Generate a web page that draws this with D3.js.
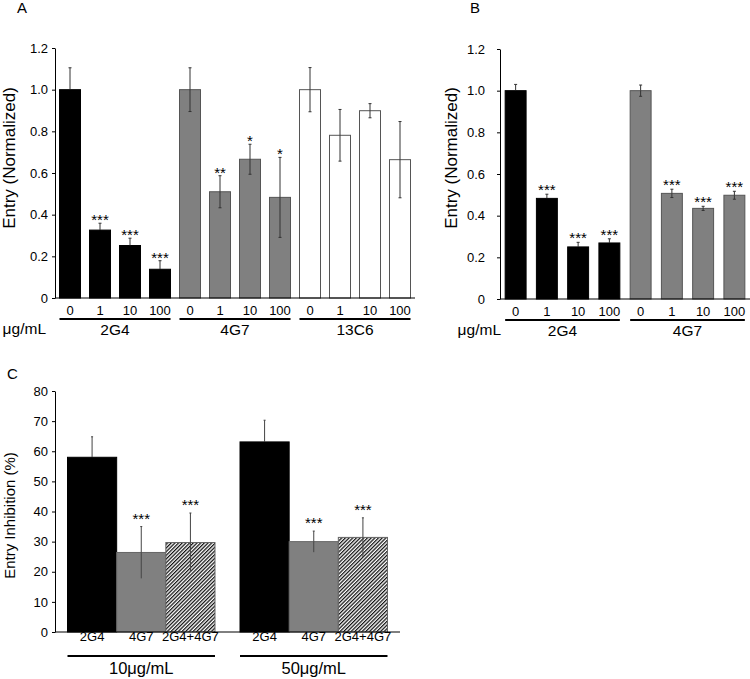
<!DOCTYPE html>
<html>
<head>
<meta charset="utf-8">
<script src="https://cdn.jsdelivr.net/npm/d3@7/dist/d3.min.js"></script>
<style>
html,body{margin:0;padding:0;background:#fff;}
svg{display:block;font-family:"Liberation Sans",Arial,sans-serif;}
</style>
</head>
<body>
<svg id="chart" width="750" height="679"></svg>
<script>
// ---------- Data ----------
const doses = ["0", "1", "10", "100"];
const unitLabel = "μg/mL";

// Panel A
const groupsA = ["2G4", "4G7", "13C6"];
const entryA_2G4 = [1.0, 0.326, 0.252, 0.138];
const errA_2G4 = [0.105, 0.033, 0.035, 0.041];
const sigA_2G4 = ["", "***", "***", "***"];
const entryA_4G7 = [1.0, 0.510, 0.666, 0.483];
const errA_4G7 = [0.105, 0.077, 0.072, 0.192];
const sigA_4G7 = ["", "**", "*", "*"];
const entryA_13C6 = [1.0, 0.781, 0.899, 0.664];
const errA_13C6 = [0.106, 0.124, 0.034, 0.183];
const sigA_13C6 = ["", "", "", ""];

// Panel B
const groupsB = ["2G4", "4G7"];
const entryB_2G4 = [1.0, 0.483, 0.250, 0.269];
const errB_2G4 = [0.03, 0.02, 0.022, 0.02];
const sigB_2G4 = ["", "***", "***", "***"];
const entryB_4G7 = [1.0, 0.507, 0.435, 0.498];
const errB_4G7 = [0.027, 0.02, 0.01, 0.019];
const sigB_4G7 = ["", "***", "***", "***"];

const ticksAB = [0, 0.2, 0.4, 0.6, 0.8, 1.0, 1.2];
const tickLabelsAB = ["0", "0.2", "0.4", "0.6", "0.8", "1.0", "1.2"];

// Panel C
const concentrationsC = ["10μg/mL", "50μg/mL"];
const antibodiesC = ["2G4", "4G7", "2G4+4G7"];
const inhib10 = [58.0, 26.4, 29.7];
const err10 = [6.8, 8.6, 9.8];
const inhib50 = [63.1, 30.0, 31.4];
const err50 = [7.2, 3.5, 6.5];
const sigC = ["", "***", "***"];
const ticksC = [0, 10, 20, 30, 40, 50, 60, 70, 80];

// ---------- Styles ----------
const FONT = "Liberation Sans, Arial, sans-serif";
const BLACK = "#000";
const GRAY = "#808080";
const EDGE = "#555";
const ERR = "#333";

const svg = d3.select("#chart");
const defs = svg.append("defs");
const pat = defs.append("pattern")
  .attr("id", "hatch")
  .attr("patternUnits", "userSpaceOnUse")
  .attr("width", 2.6).attr("height", 2.6)
  .attr("patternTransform", "rotate(45)");
pat.append("rect").attr("width", 2.6).attr("height", 2.6).attr("fill", "#fff");
pat.append("rect").attr("width", 1.25).attr("height", 2.6).attr("fill", "#111");

// ---------- Panel A / B builder ----------
function panelAB(opt) {
  const g = svg.append("g");
  const rows = [];
  opt.groups.forEach((grp, gi) => {
    opt.values[gi].forEach((v, di) => {
      rows.push({grp, gi, dose: doses[di], v, e: opt.errs[gi][di], s: opt.sigs[gi][di], key: grp + "_" + di});
    });
  });
  const x = d3.scaleBand().domain(rows.map(r => r.key))
    .range([opt.x0, opt.x1]).paddingInner(opt.pin).paddingOuter(opt.pout);
  const y = d3.scaleLinear().domain([0, 1.2]).range([opt.y0, opt.y1]);

  const yAxis = d3.axisLeft(y).tickValues(ticksAB)
    .tickFormat((d, i) => tickLabelsAB[i]).tickSize(3).tickSizeOuter(0);
  const ya = g.append("g").attr("transform", `translate(${opt.x0},0)`).call(yAxis);
  ya.select(".domain").attr("stroke", "#000").attr("stroke-width", 1);
  ya.selectAll(".tick line").attr("stroke", "#000");
  ya.selectAll(".tick text").attr("x", -opt.labelGap).attr("font-size", 13)
    .attr("font-family", FONT).attr("fill", "#000");

  g.selectAll("rect.bar").data(rows).join("rect")
    .attr("x", d => x(d.key)).attr("width", x.bandwidth())
    .attr("y", d => y(d.v)).attr("height", d => y(0) - y(d.v))
    .attr("fill", d => opt.fills[d.gi])
    .attr("stroke", d => opt.strokes[d.gi]).attr("stroke-width", 1);

  const eg = g.selectAll("g.err").data(rows).join("g");
  const cx = d => x(d.key) + x.bandwidth() / 2;
  eg.append("line").attr("x1", cx).attr("x2", cx)
    .attr("y1", d => y(d.v + d.e)).attr("y2", d => y(d.v))
    .attr("stroke", ERR).attr("stroke-width", 1);
  eg.append("line").attr("x1", cx).attr("x2", cx)
    .attr("y1", d => y(d.v)).attr("y2", d => y(d.v - d.e))
    .attr("stroke", d => opt.fills[d.gi] === BLACK ? "#000" : ERR).attr("stroke-width", 1);
  [1, -1].forEach(sgn => {
    eg.append("line").attr("x1", d => cx(d) - 1.5).attr("x2", d => cx(d) + 1.5)
      .attr("y1", d => y(d.v + sgn * d.e)).attr("y2", d => y(d.v + sgn * d.e))
      .attr("stroke", d => (sgn < 0 && opt.fills[d.gi] === BLACK) ? "#000" : ERR).attr("stroke-width", 1);
  });

  g.selectAll("text.sig").data(rows.filter(r => r.s)).join("text")
    .attr("x", cx).attr("y", d => y(d.v + d.e) + opt.starDy)
    .attr("text-anchor", "middle").attr("font-size", 15).attr("font-family", FONT)
    .text(d => d.s);

  g.append("line").attr("x1", opt.x0).attr("x2", opt.x1)
    .attr("y1", y(0)).attr("y2", y(0)).attr("stroke", "#000").attr("stroke-width", 1);

  g.selectAll("text.dose").data(rows).join("text")
    .attr("x", cx).attr("y", opt.y0 + 17)
    .attr("text-anchor", "middle").attr("font-size", 13).attr("font-family", FONT)
    .text(d => d.dose);

  opt.groups.forEach((grp, gi) => {
    const first = x(grp + "_0");
    const last = x(grp + "_" + (doses.length - 1)) + x.bandwidth();
    g.append("line").attr("x1", first).attr("x2", last)
      .attr("y1", opt.y0 + 21).attr("y2", opt.y0 + 21)
      .attr("stroke", "#000").attr("stroke-width", 2);
    g.append("text").attr("x", (first + last) / 2).attr("y", opt.y0 + 37)
      .attr("text-anchor", "middle").attr("font-size", 15.5).attr("font-family", FONT)
      .text(grp);
  });

  g.append("text").attr("x", opt.unitX).attr("y", opt.y0 + 36)
    .attr("text-anchor", "end").attr("font-size", 15.5).attr("font-family", FONT)
    .text(unitLabel);

  g.append("text")
    .attr("transform", `translate(${opt.ylabX},158) rotate(-90)`)
    .attr("text-anchor", "middle").attr("font-size", 17).attr("font-family", FONT)
    .text("Entry (Normalized)");

  g.append("text").attr("x", opt.letterX).attr("y", 13)
    .attr("font-size", 15).attr("font-family", FONT).text(opt.letter);
}

panelAB({
  letter: "A", letterX: 17,
  groups: groupsA,
  values: [entryA_2G4, entryA_4G7, entryA_13C6],
  errs: [errA_2G4, errA_4G7, errA_13C6],
  sigs: [sigA_2G4, sigA_4G7, sigA_13C6],
  fills: [BLACK, GRAY, "#fff"],
  strokes: ["#000", EDGE, EDGE],
  x0: 55, x1: 415, pin: 0.3, pout: 0.15,
  y0: 298, y1: 48, labelGap: 7, starDy: 2,
  unitX: 46, ylabX: 15
});

panelAB({
  letter: "B", letterX: 470,
  groups: groupsB,
  values: [entryB_2G4, entryB_4G7],
  errs: [errB_2G4, errB_4G7],
  sigs: [sigB_2G4, sigB_4G7],
  fills: [BLACK, GRAY],
  strokes: ["#000", EDGE],
  x0: 500, x1: 750, pin: 0.33, pout: 0.165,
  y0: 299, y1: 49, labelGap: 15, starDy: 1,
  unitX: 501, ylabX: 457
});

// ---------- Panel C ----------
(function () {
  const g = svg.append("g");
  const x0 = 55, x1 = 400, yb = 632, yt = 391;
  const xg = d3.scaleBand().domain(concentrationsC).range([x0, x1])
    .paddingInner(0.145).paddingOuter(0.0725);
  const xb = d3.scaleBand().domain(antibodiesC).range([0, xg.bandwidth()]).padding(0);
  const y = d3.scaleLinear().domain([0, 80]).range([yb, yt]);
  const fillsC = [BLACK, GRAY, "url(#hatch)"];
  const strokesC = ["#000", "#666", "#666"];
  const vals = [inhib10, inhib50];
  const errs = [err10, err50];
  const rows = [];
  concentrationsC.forEach((c, ci) => antibodiesC.forEach((a, ai) => {
    rows.push({c, a, ai, v: vals[ci][ai], e: errs[ci][ai], s: sigC[ai]});
  }));

  const yAxis = d3.axisLeft(y).tickValues(ticksC).tickSize(3).tickSizeOuter(0);
  const ya = g.append("g").attr("transform", `translate(${x0},0)`).call(yAxis);
  ya.selectAll(".tick text").attr("x", -7).attr("font-size", 13).attr("font-family", FONT).attr("fill", "#000");

  const bx = d => xg(d.c) + xb(d.a);
  g.selectAll("rect.bar").data(rows).join("rect")
    .attr("x", bx).attr("width", xb.bandwidth())
    .attr("y", d => y(d.v)).attr("height", d => yb - y(d.v))
    .attr("fill", d => fillsC[d.ai]).attr("stroke", d => strokesC[d.ai]).attr("stroke-width", 1);

  const cx = d => bx(d) + xb.bandwidth() / 2;
  g.selectAll("line.errUp").data(rows).join("line")
    .attr("x1", cx).attr("x2", cx)
    .attr("y1", d => y(d.v + d.e)).attr("y2", d => y(d.v))
    .attr("stroke", "#444").attr("stroke-width", 1);
  g.selectAll("line.errDn").data(rows).join("line")
    .attr("x1", cx).attr("x2", cx)
    .attr("y1", d => y(d.v)).attr("y2", d => y(d.v - d.e))
    .attr("stroke", d => d.ai === 0 ? "#000" : "#444").attr("stroke-width", 1);
  g.selectAll("line.cap").data(rows).join("line")
    .attr("x1", d => cx(d) - 1).attr("x2", d => cx(d) + 1)
    .attr("y1", d => y(d.v + d.e)).attr("y2", d => y(d.v + d.e))
    .attr("stroke", "#444");

  g.selectAll("text.sig").data(rows.filter(r => r.s)).join("text")
    .attr("x", cx).attr("y", d => y(d.v + d.e) - 3)
    .attr("text-anchor", "middle").attr("font-size", 15).attr("font-family", FONT)
    .text(d => d.s);

  g.append("line").attr("x1", x0).attr("x2", x1).attr("y1", yb).attr("y2", yb)
    .attr("stroke", "#000");

  g.selectAll("text.ab").data(rows).join("text")
    .attr("x", cx).attr("y", 641).attr("text-anchor", "middle")
    .attr("font-size", 13).attr("font-family", FONT).text(d => d.a);

  concentrationsC.forEach(c => {
    const a = xg(c), b = xg(c) + xg.bandwidth();
    g.append("line").attr("x1", a).attr("x2", b).attr("y1", 656).attr("y2", 656)
      .attr("stroke", "#000").attr("stroke-width", 2);
    g.append("text").attr("x", (a + b) / 2).attr("y", 674).attr("text-anchor", "middle")
      .attr("font-size", 16.5).attr("font-family", FONT).text(c);
  });

  g.append("text")
    .attr("transform", `translate(15,${(yb + yt) / 2 + 4}) rotate(-90)`)
    .attr("text-anchor", "middle").attr("font-size", 15).attr("font-family", FONT)
    .text("Entry Inhibition (%)");

  g.append("text").attr("x", 7).attr("y", 379).attr("font-size", 15)
    .attr("font-family", FONT).text("C");
})();
</script>
</body>
</html>
